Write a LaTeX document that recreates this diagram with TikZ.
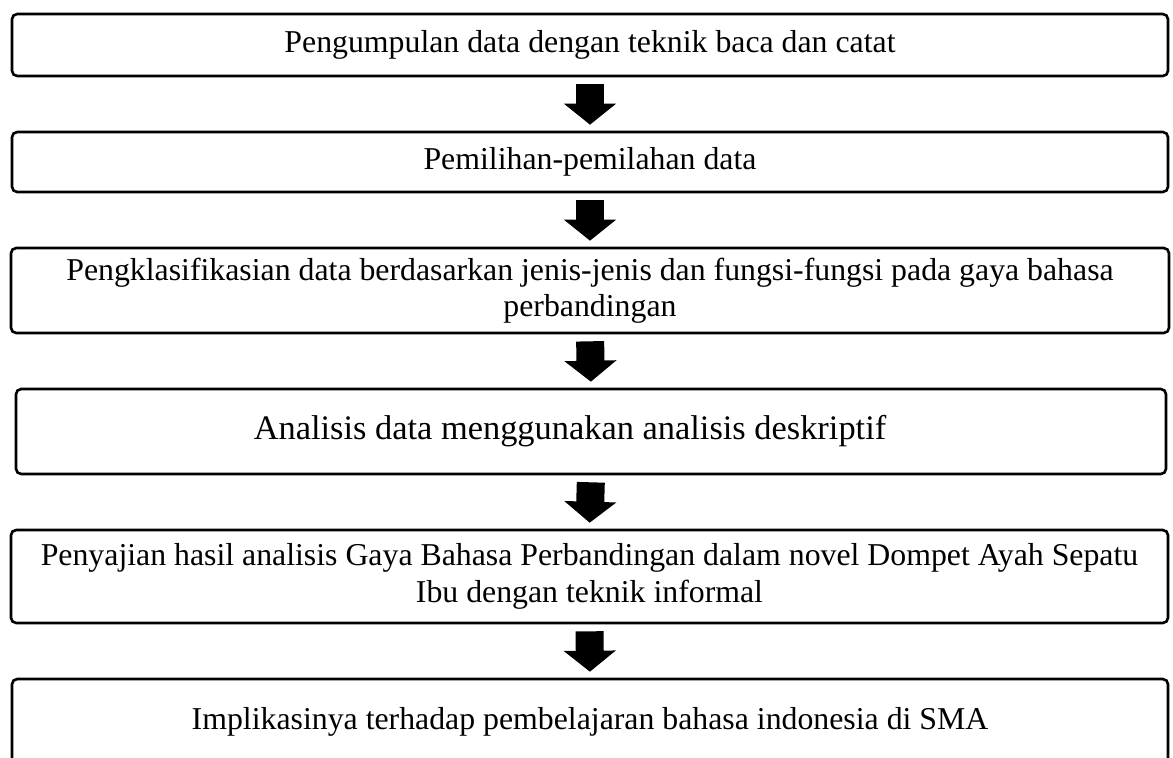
\documentclass[tikz,border=0pt]{standalone}
\usepackage{fontspec}
\setmainfont{Liberation Serif}
\usetikzlibrary{arrows.meta}
\tikzset{
  stepbox/.style={draw=black, line width=1.3pt, rounded corners=2.6pt, minimum width=578pt, align=center, inner sep=0pt, font=\fontsize{15.9}{18.2}\selectfont},
  blockarr/.style={line width=14pt, -{Triangle[width=25.5pt,length=10.5pt]}, shorten <=3.5pt, shorten >=3pt}
}
\begin{document}
\begin{tikzpicture}[x=0.5pt,y=-0.5pt]
\useasboundingbox (0,0) rectangle (1173,757);
\node[stepbox, minimum height=31pt] (b1) at (590,45) {Pengumpulan data dengan teknik baca dan catat};
\node[stepbox, minimum height=30pt] (b2) at (590,162) {Pemilihan-pemilahan data};
\node[stepbox, minimum height=42.5pt, minimum width=579pt] (b3) at (590,290.5) {Pengklasifikasian data berdasarkan jenis-jenis dan fungsi-fungsi pada gaya bahasa\\perbandingan};
\node[stepbox, minimum height=42.5pt, minimum width=575pt, font=\fontsize{17.2}{19.5}\selectfont] (b4) at (591,431.5) {\hspace*{-21pt}Analisis data menggunakan analisis deskriptif};
\node[stepbox, minimum height=46.5pt, minimum width=578.5pt] (b5) at (589.5,576.5) {Penyajian hasil analisis Gaya Bahasa Perbandingan dalam novel Dompet Ayah Sepatu\\Ibu dengan teknik informal};
\node[stepbox, minimum height=43pt] (b6) at (590,722) {Implikasinya terhadap pembelajaran bahasa indonesia di SMA};
\draw[blockarr] (b1.south) -- (b2.north);
\draw[blockarr] (b2.south) -- (b3.north);
\draw[blockarr] (b3.south) -- (b4.north);
\draw[blockarr] (b4.south) -- (b5.north);
\draw[blockarr] (b5.south) -- (b6.north);
\end{tikzpicture}
\end{document}
